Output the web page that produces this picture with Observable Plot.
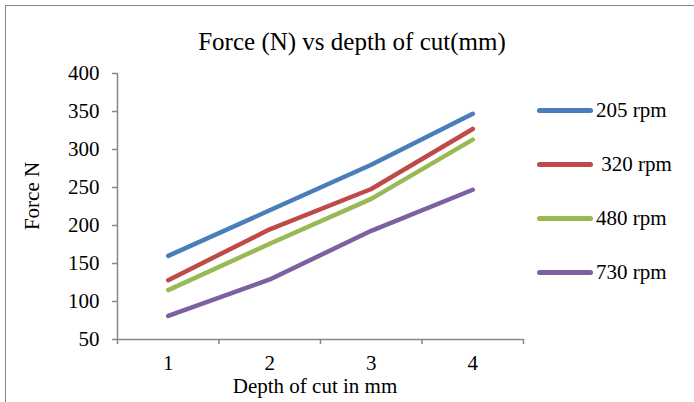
<!DOCTYPE html>
<html>
<head>
<meta charset="utf-8">
<script src="https://cdn.jsdelivr.net/npm/d3@7"></script>
<script src="https://cdn.jsdelivr.net/npm/@observablehq/plot@0.6"></script>
<style>
  html, body { margin: 0; padding: 0; background: #fff; }
  #wrap { position: relative; width: 694px; height: 402px; overflow: hidden; font-family: "Liberation Serif", "Times New Roman", serif; color: #000; }
  #frame { position: absolute; left: 5px; top: 5px; width: 720px; height: 430px; border-left: 1.5px solid #878787; border-top: 1.5px solid #878787; box-sizing: border-box; }
  #title { position: absolute; left: 0; width: 704px; top: 27px; text-align: center; font-size: 25px; line-height: 30px; }
  #ylab { position: absolute; left: 32px; top: 196px; font-size: 21px; line-height: 21px; transform: translate(-50%, -50%) rotate(-90deg); white-space: pre; }
  #xlab { position: absolute; left: 315px; top: 376px; font-size: 21px; transform: translateX(-50%); white-space: pre; line-height: 21px; }
  #legend { position: absolute; left: 537px; top: 97px; }
  .item { display: flex; align-items: center; height: 27px; margin-bottom: 27px; font-size: 21px; white-space: pre; }
  .sw { width: 56px; height: 5px; border-radius: 3px; margin-right: 3px; }
  #chart { position: absolute; left: 0; top: 0; }
  #chart svg text { font-family: "Liberation Serif", "Times New Roman", serif !important; font-size: 21px !important; fill: #000; }
</style>
</head>
<body>
<div id="wrap">
  <div id="frame"></div>
  <div id="chart"></div>
  <div id="title"></div>
  <div id="ylab"></div>
  <div id="xlab"></div>
  <div id="legend"></div>
</div>
<script>
// ---- data ----
const depths = [1, 2, 3, 4];
const seriesNames = ["205 rpm", "320 rpm", "480 rpm", "730 rpm"];
const legendLabels = ["205 rpm", " 320 rpm", "480 rpm", "730 rpm"];
const rpm205 = [160, 220, 280, 347];
const rpm320 = [128, 195, 248, 327];
const rpm480 = [115, 176, 235, 313];
const rpm730 = [81, 129, 193, 247];
const colors = ["#4A7EBB", "#BE4B48", "#98B954", "#7D60A0"];
const yTicks = [50, 100, 150, 200, 250, 300, 350, 400];
const xEdges = [0.5, 1.5, 2.5, 3.5, 4.5];
const titleText = "Force (N) vs depth of cut(mm)";
const yLabel = "Force N";
const xLabel = "Depth of cut in mm";

const allSeries = [rpm205, rpm320, rpm480, rpm730];
const rows = [];
allSeries.forEach((vals, si) => vals.forEach((v, i) => rows.push({depth: depths[i], force: v, series: seriesNames[si]})));

const font = '"Liberation Serif", "Times New Roman", serif';
const axisColor = "#878787";

const plot = Plot.plot({
  width: 694,
  height: 402,
  marginLeft: 117,
  marginRight: 171,
  marginTop: 73,
  marginBottom: 63,
  style: {fontFamily: font, fontSize: "21px", color: "#000", background: "transparent", overflow: "visible"},
  x: {type: "linear", domain: [0.5, 4.5]},
  y: {domain: [50, 400]},
  color: {domain: seriesNames, range: colors},
  marks: [
    Plot.ruleX([0.5], {stroke: axisColor, strokeWidth: 1.5}),
    Plot.ruleY([50], {stroke: axisColor, strokeWidth: 1.5}),
    Plot.axisY({ticks: yTicks, tickSize: 5, tickPadding: 13, stroke: axisColor, strokeWidth: 1.5, label: null, fill: "#000", fontFamily: font, fontSize: 21}),
    Plot.axisX({ticks: xEdges, tickSize: 5, tickFormat: () => "", stroke: axisColor, strokeWidth: 1.5, label: null}),
    Plot.axisX({ticks: depths, tickSize: 0, tickPadding: 16, tickFormat: d => String(d), label: null, fill: "#000", fontFamily: font, fontSize: 21}),
    Plot.line(rows, {x: "depth", y: "force", z: "series", stroke: "series", strokeWidth: 4.5, strokeLinecap: "round", strokeLinejoin: "round"})
  ]
});
document.getElementById("chart").appendChild(plot);

document.getElementById("title").textContent = titleText;
document.getElementById("ylab").textContent = yLabel;
document.getElementById("xlab").textContent = xLabel;
const legend = document.getElementById("legend");
legendLabels.forEach((lab, i) => {
  const item = document.createElement("div");
  item.className = "item";
  const sw = document.createElement("div");
  sw.className = "sw";
  sw.style.background = colors[i];
  const t = document.createElement("span");
  t.textContent = lab;
  item.appendChild(sw);
  item.appendChild(t);
  legend.appendChild(item);
});
</script>
</body>
</html>
